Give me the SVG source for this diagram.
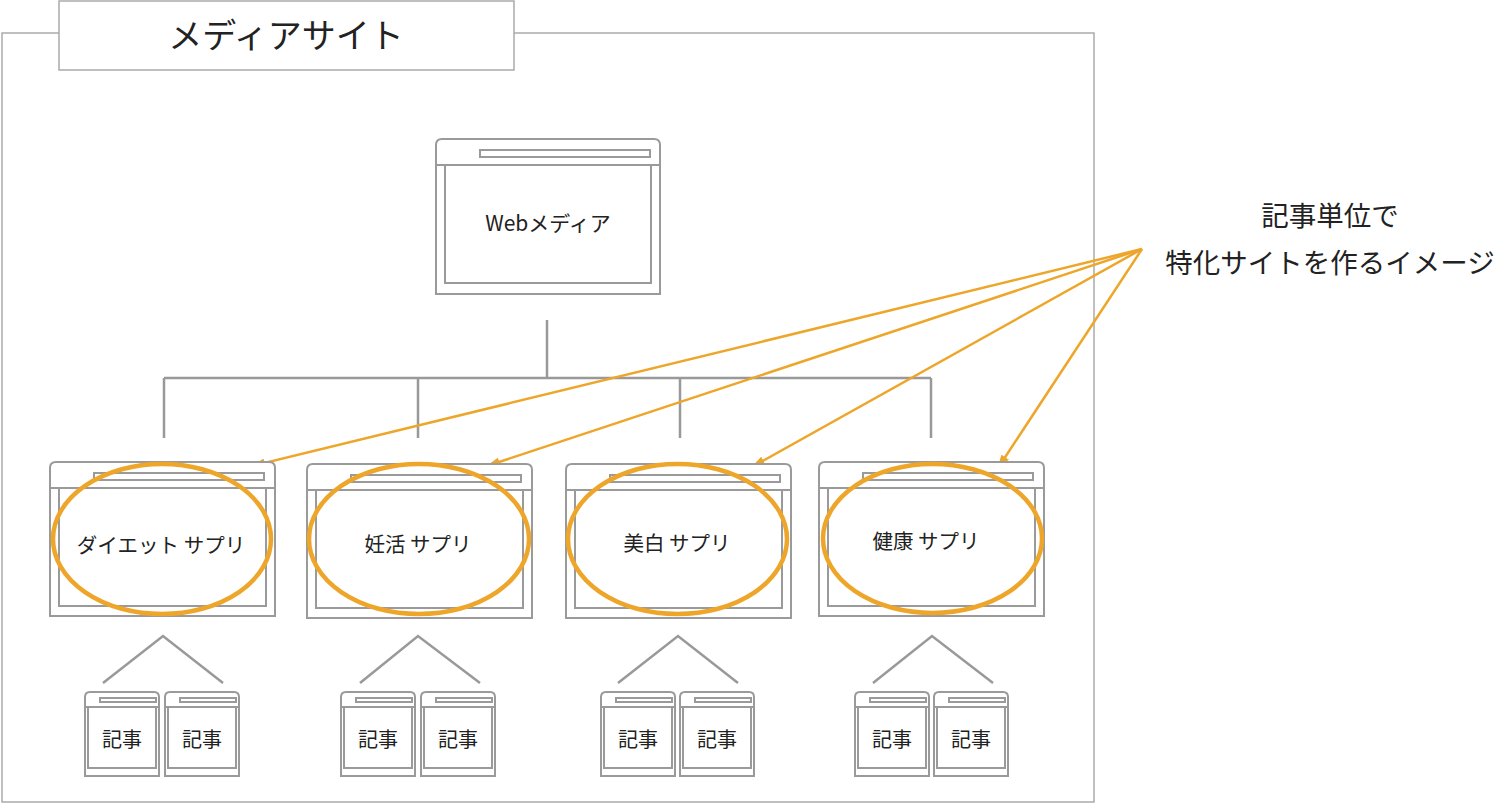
<svg xmlns="http://www.w3.org/2000/svg" xmlns:xlink="http://www.w3.org/1999/xlink" width="1500" height="804" viewBox="0 0 1500 804">
<style>
.win{fill:#fff;stroke:#9a9a9a;stroke-width:2}
.inner{fill:none;stroke:#9a9a9a;stroke-width:2}
.tree{fill:none;stroke:#999;stroke-width:2.5}
.ring{fill:none;stroke:#EEA62A;stroke-width:4.5}
.arr{fill:none;stroke:#EEA62A;stroke-width:2.5}
.lbl{font-family:"Noto Sans CJK JP","Noto Sans",sans-serif;fill:#222;text-anchor:middle}
</style>
<defs>
<marker id="ah" viewBox="0 0 14 9" refX="13" refY="4.5" markerWidth="14" markerHeight="9" markerUnits="userSpaceOnUse" orient="auto">
<path d="M0,0 L14,4.5 L0,9 Z" fill="#EEA62A"/>
</marker>
<g id="site">
<path class="win" d="M0,154 V6 Q0,0 6,0 H219 Q225,0 225,6 V154 Z"/>
<line class="inner" x1="0" y1="26" x2="225" y2="26"/>
<rect class="inner" x="44" y="11" width="170" height="7"/>
<rect class="inner" x="9" y="26" width="207" height="118"/>
</g>
<g id="art">
<path class="win" d="M0,84 V5 Q0,0 5,0 H69 Q74,0 74,5 V84 Z"/>
<line class="inner" x1="0" y1="15" x2="74" y2="15"/>
<rect class="inner" x="15" y="6" width="56" height="4"/>
<rect class="inner" x="3" y="15" width="68" height="61"/>
</g>
</defs>
<rect width="1500" height="804" fill="#fff"/>
<g id="frame">
<rect x="2" y="33" width="1092" height="769" fill="none" stroke="#aaa" stroke-width="1.5"/>
<rect x="59" y="1" width="455" height="69" fill="#fff" stroke="#aaa" stroke-width="1.5"/>
<text class="lbl" x="286" y="48" font-size="34" fill="#333">メディアサイト</text>
</g>
<g id="connectors">
<path class="tree" d="M547,320 V378 M164,378 H931 M164,378 V438 M418,378 V438 M680,378 V438 M931,378 V438"/>
<path class="tree" d="M103,683 L163,636 L223,683"/>
<path class="tree" d="M360,683 L418,636 L480,683"/>
<path class="tree" d="M618,683 L678,636 L738,683"/>
<path class="tree" d="M873,683 L932,636 L993,683"/>
<line class="arr" x1="1142" y1="249" x2="252" y2="466" marker-end="url(#ah)"/>
<line class="arr" x1="1142" y1="249" x2="487" y2="466" marker-end="url(#ah)"/>
<line class="arr" x1="1142" y1="249" x2="752" y2="467" marker-end="url(#ah)"/>
<line class="arr" x1="1142" y1="249" x2="998" y2="468" marker-end="url(#ah)"/>
</g>
<g id="webmedia">
<path class="win" d="M436,294 V145 Q436,139 442,139 H654 Q660,139 660,145 V294 Z"/>
<line class="inner" x1="436" y1="165" x2="660" y2="165"/>
<rect class="inner" x="480" y="150" width="170" height="7"/>
<rect class="inner" x="445" y="165" width="206" height="118"/>
<text class="lbl" x="548" y="231" font-size="21">Webメディア</text>
</g>
<g id="diet">
<use xlink:href="#site" x="50" y="462"/>
<ellipse class="ring" cx="162" cy="539" rx="109" ry="75"/>
<text class="lbl" x="161" y="553" font-size="20.5">ダイエット サプリ</text>
</g>
<g id="ninkatsu">
<use xlink:href="#site" x="307" y="464"/>
<ellipse class="ring" cx="419" cy="539" rx="110" ry="75"/>
<text class="lbl" x="418" y="552" font-size="20.5">妊活 サプリ</text>
</g>
<g id="bihaku">
<use xlink:href="#site" x="566" y="464"/>
<ellipse class="ring" cx="677.5" cy="539" rx="109.5" ry="75"/>
<text class="lbl" x="677" y="551" font-size="20.5">美白 サプリ</text>
</g>
<g id="kenko">
<use xlink:href="#site" x="819" y="462"/>
<ellipse class="ring" cx="932.5" cy="538.5" rx="109.5" ry="74.5"/>
<text class="lbl" x="926" y="549" font-size="20.5">健康 サプリ</text>
</g>
<g id="articles1">
<use xlink:href="#art" x="85" y="692"/><text class="lbl" x="122" y="747" font-size="20">記事</text>
<use xlink:href="#art" x="165" y="692"/><text class="lbl" x="202" y="747" font-size="20">記事</text>
</g>
<g id="articles2">
<use xlink:href="#art" x="341" y="692"/><text class="lbl" x="378" y="747" font-size="20">記事</text>
<use xlink:href="#art" x="421" y="692"/><text class="lbl" x="458" y="747" font-size="20">記事</text>
</g>
<g id="articles3">
<use xlink:href="#art" x="601" y="692"/><text class="lbl" x="638" y="747" font-size="20">記事</text>
<use xlink:href="#art" x="680" y="692"/><text class="lbl" x="717" y="747" font-size="20">記事</text>
</g>
<g id="articles4">
<use xlink:href="#art" x="855" y="692"/><text class="lbl" x="892" y="747" font-size="20">記事</text>
<use xlink:href="#art" x="934" y="692"/><text class="lbl" x="971" y="747" font-size="20">記事</text>
</g>
<g id="note">
<text class="lbl" x="1330" y="226" font-size="27.5" fill="#333">記事単位で</text>
<text class="lbl" x="1330" y="273" font-size="27.5" fill="#333">特化サイトを作るイメージ</text>
</g>
</svg>
